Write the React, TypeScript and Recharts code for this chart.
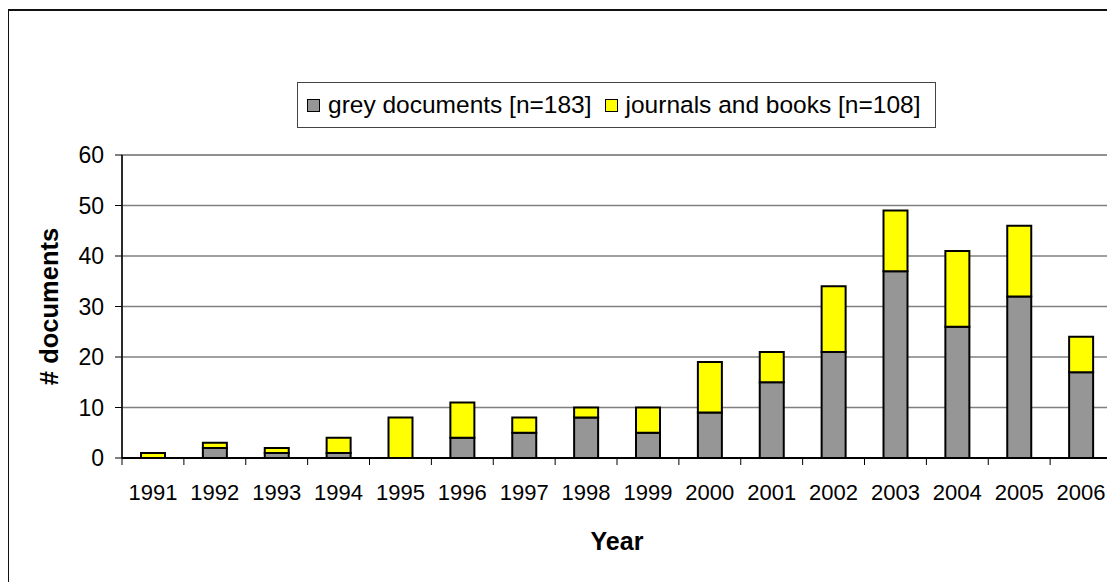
import React from "react";
import {
  BarChart,
  Bar,
  XAxis,
  YAxis,
  CartesianGrid,
  Legend,
  ReferenceArea,
} from "recharts";

// ---- data ----
const years = [
  "1991", "1992", "1993", "1994", "1995", "1996", "1997", "1998",
  "1999", "2000", "2001", "2002", "2003", "2004", "2005", "2006",
];
const greyDocuments = [0, 2, 1, 1, 0, 4, 5, 8, 5, 9, 15, 21, 37, 26, 32, 17];
const journalsAndBooks = [1, 1, 1, 3, 8, 7, 3, 2, 5, 10, 6, 13, 12, 15, 14, 7];
const seriesNames = ["grey documents [n=183]", "journals and books [n=108]"];
const seriesColors = ["#969696", "#FFFF00"];
const yTicks = [0, 10, 20, 30, 40, 50, 60];
const xTitle = "Year";
const yTitle = "# documents";

const data = years.map((y, i) => ({
  year: y,
  grey: greyDocuments[i],
  journals: journalsAndBooks[i],
}));

const FONT = '"Liberation Sans", Arial, Helvetica, sans-serif';

const XTick = (props: any) => {
  const { x, y, payload } = props;
  const half = payload && typeof payload.offset === "number" ? payload.offset : 30.9;
  const isLast = payload.value === years[years.length - 1];
  return (
    <g>
      <line x1={x - half} y1={y} x2={x - half} y2={y + 7} stroke="#000" strokeWidth={1} />
      {isLast && (
        <line x1={x + half} y1={y} x2={x + half} y2={y + 7} stroke="#000" strokeWidth={1} />
      )}
      <text
        x={x}
        y={y + 42}
        textAnchor="middle"
        fontSize={22}
        fill="#000"
        fontFamily={FONT}
      >
        {payload.value}
      </text>
    </g>
  );
};

const LegendBox = () => (
  <div
    style={{
      width: 639,
      height: 46,
      boxSizing: "border-box",
      border: "1px solid #444",
      background: "#fff",
      display: "flex",
      alignItems: "center",
      paddingLeft: 9,
      fontFamily: FONT,
      fontSize: 24.5,
      color: "#000",
      whiteSpace: "nowrap",
    }}
  >
    {seriesNames.map((name, i) => (
      <div key={name} style={{ display: "flex", alignItems: "center", marginRight: 13 }}>
        <div
          style={{
            width: 13,
            height: 13,
            boxSizing: "border-box",
            border: "1.5px solid #000",
            background: seriesColors[i],
            marginRight: 8,
          }}
        />
        <span>{name}</span>
      </div>
    ))}
  </div>
);

export default function App() {
  return (
    <div style={{ position: "relative", width: 1107, height: 574 }}>
      <BarChart
        width={1107}
        height={574}
        data={data}
        margin={{ top: 147, right: 3, bottom: 0, left: 0 }}
        barCategoryGap={0}
        style={{ fontFamily: FONT }}
      >
        <CartesianGrid vertical={false} stroke="#808080" strokeWidth={1.5} />
        <ReferenceArea
          y1={0}
          y2={60}
          fill="none"
          fillOpacity={0}
          stroke="#8a8a8a"
          strokeWidth={1.5}
          ifOverflow="visible"
        />
        <XAxis
          dataKey="year"
          height={124}
          tickSize={0}
          tickMargin={0}
          tickLine={false}
          interval={0}
          axisLine={{ stroke: "#000", strokeWidth: 2 }}
          tick={<XTick />}
          label={{
            value: xTitle,
            position: "insideBottom",
            offset: 32,
            fill: "#000",
            fontSize: 25,
            fontWeight: "bold",
          }}
        />
        <YAxis
          width={114}
          domain={[0, 60]}
          ticks={yTicks}
          interval={0}
          tickSize={7}
          tickMargin={11}
          tick={{ fill: "#000", fontSize: 23 }}
          tickLine={{ stroke: "#000" }}
          axisLine={{ stroke: "#000", strokeWidth: 1.5 }}
          label={{
            content: (p: any) => {
              const vb = p.viewBox || { x: 0, y: 147, width: 114, height: 303 };
              const cx = vb.x + 50;
              const cy = vb.y + vb.height / 2;
              return (
                <text
                  x={cx}
                  y={cy}
                  textAnchor="middle"
                  fontSize={25.5}
                  fontWeight="bold"
                  fill="#000"
                  fontFamily={FONT}
                  transform={`rotate(-90, ${cx}, ${cy})`}
                >
                  {yTitle}
                </text>
              );
            },
          }}
        />
        <Legend
          layout="vertical"
          verticalAlign="middle"
          align="center"
          width={639}
          height={46}
          wrapperStyle={{ left: 289, top: 74, width: 639, height: 46 }}
          content={() => <LegendBox />}
        />
        <Bar
          dataKey="grey"
          name={seriesNames[0]}
          stackId="a"
          fill={seriesColors[0]}
          stroke="#000"
          strokeWidth={2}
          barSize={24}
          isAnimationActive={false}
        />
        <Bar
          dataKey="journals"
          name={seriesNames[1]}
          stackId="a"
          fill={seriesColors[1]}
          stroke="#000"
          strokeWidth={2}
          barSize={24}
          isAnimationActive={false}
        />
      </BarChart>
      <div
        style={{
          position: "absolute",
          left: -1,
          top: 1,
          width: 1110,
          height: 580,
          borderLeft: "2px solid #111",
          borderTop: "2px solid #111",
          pointerEvents: "none",
        }}
      />
    </div>
  );
}
